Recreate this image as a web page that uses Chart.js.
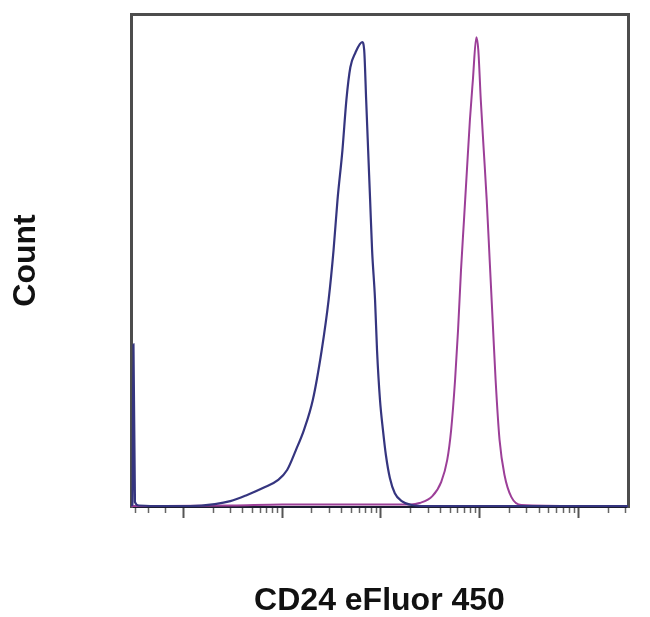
<!DOCTYPE html>
<html>
<head>
<meta charset="utf-8">
<script src="https://cdn.jsdelivr.net/npm/chart.js@4/dist/chart.umd.min.js"></script>
<style>
  html, body { margin: 0; padding: 0; background: #fff; }
  canvas { display: block; }
</style>
</head>
<body>
<canvas id="histograma" width="650" height="617"></canvas>
<script>
// Eixo x em décadas de log (0 = primeira década marcada)
const blueX = [-0.53, -0.515, -0.505, -0.49, -0.45, -0.3, 0, 0.07, 0.32, 0.475, 0.64, 0.81, 0.96, 1.05, 1.14, 1.22, 1.31, 1.40, 1.47, 1.52, 1.56, 1.61, 1.65, 1.69, 1.74, 1.81, 1.83, 1.85, 1.87, 1.89, 1.91, 1.94, 1.96, 1.99, 2.02, 2.05, 2.09, 2.14, 2.21, 2.31, 2.46, 3.0, 4.5];
const blueY = [0.3, 0.5, 33, 1, 0.3, 0.2, 0.2, 0.2, 0.6, 1.2, 2.4, 3.9, 5.5, 7.5, 11.6, 15.6, 21.7, 31.8, 42, 52.1, 62.3, 72.4, 82.6, 89.2, 92.1, 94.3, 92.7, 82.6, 72.4, 62.3, 52.1, 42, 31.8, 21.7, 15.6, 10.5, 5.9, 2.8, 1.2, 0.4, 0.2, 0.2, 0.2];

const magentaX = [-0.53, 0.5, 1.0, 2.0, 2.3, 2.39, 2.52, 2.61, 2.67, 2.71, 2.75, 2.78, 2.81, 2.84, 2.87, 2.90, 2.93, 2.965, 2.985, 3.01, 3.04, 3.07, 3.10, 3.13, 3.16, 3.20, 3.25, 3.32, 3.42, 4.0, 4.5];
const magentaY = [0.2, 0.3, 0.5, 0.5, 0.5, 0.8, 2.2, 5.1, 9.5, 15.6, 25.8, 35.9, 48.1, 58.2, 68.4, 78.5, 86.6, 95.3, 92.7, 82.6, 72.4, 62.3, 50.1, 37.9, 25.8, 13.6, 6.5, 2.0, 0.4, 0.2, 0.2];

// marcas do eixo x
const decadas = [0, 1, 2, 3, 4];
const multiplicadores = [2, 3, 4, 5, 6, 7, 8, 9];
const marcasNegativas = [-0.48, -0.35, -0.18];

const tituloX = 'CD24 eFluor 450';
const tituloY = 'Count';

const marcasMenores = [...marcasNegativas];
decadas.forEach(d => {
  multiplicadores.forEach(m => {
    const v = d + Math.log10(m);
    if (v < 4.5) marcasMenores.push(v);
  });
});

function juntarPontos(xs, ys) {
  return xs.map((x, i) => ({ x: x, y: ys[i] }));
}

const fonteTitulo = { family: '"Liberation Sans", Arial, sans-serif', size: 32, weight: 'bold', lineHeight: 1 };

new Chart(document.getElementById('histograma'), {
  type: 'line',
  data: {
    datasets: [
      {
        label: 'controle',
        data: juntarPontos(blueX, blueY),
        borderColor: '#35357f',
        borderWidth: 2.2,
        pointRadius: 0,
        cubicInterpolationMode: 'monotone',
        fill: false
      },
      {
        label: 'CD24',
        data: juntarPontos(magentaX, magentaY),
        borderColor: '#9c3f98',
        borderWidth: 2,
        pointRadius: 0,
        cubicInterpolationMode: 'monotone',
        fill: false
      }
    ]
  },
  options: {
    responsive: false,
    animation: false,
    layout: { padding: { left: 10, top: 14, right: 22, bottom: 0 } },
    plugins: { legend: { display: false }, tooltip: { enabled: false } },
    scales: {
      x: {
        type: 'linear',
        position: 'bottom',
        min: -0.53,
        max: 4.5,
        afterBuildTicks: (scale) => { scale.ticks = decadas.map(v => ({ value: v })); },
        afterFit: (scale) => { scale.height = 110; },
        ticks: { display: false },
        grid: { display: true, drawOnChartArea: false, drawTicks: true, tickLength: 11, tickWidth: 2, tickColor: '#555' },
        border: { display: true, color: '#1c1c30', width: 2 },
        title: { display: true, text: tituloX, color: '#111', font: fonteTitulo, padding: 0 }
      },
      xMenor: {
        type: 'linear',
        position: { y: 0 },
        min: -0.53,
        max: 4.5,
        afterBuildTicks: (scale) => { scale.ticks = marcasMenores.map(v => ({ value: v })); },
        ticks: { display: false },
        grid: { display: true, drawOnChartArea: false, drawTicks: true, tickLength: 6, tickWidth: 1.5, tickColor: '#666' },
        border: { display: false }
      },
      xTopo: {
        type: 'linear',
        position: 'top',
        min: -0.53,
        max: 4.5,
        afterFit: (scale) => { scale.height = 0; },
        ticks: { display: false },
        grid: { display: false },
        border: { display: true, color: '#4d4d4d', width: 3 }
      },
      y: {
        type: 'linear',
        position: 'left',
        min: 0,
        max: 100,
        afterFit: (scale) => { scale.width = 121; },
        ticks: { display: false },
        grid: { display: false },
        border: { display: true, color: '#4d4d4d', width: 3 },
        title: { display: true, text: tituloY, color: '#111', font: fonteTitulo, padding: 0 }
      },
      yDireita: {
        type: 'linear',
        position: 'right',
        min: 0,
        max: 100,
        afterFit: (scale) => { scale.width = 0; },
        ticks: { display: false },
        grid: { display: false },
        border: { display: true, color: '#4d4d4d', width: 3 }
      }
    }
  }
});
</script>
</body>
</html>
